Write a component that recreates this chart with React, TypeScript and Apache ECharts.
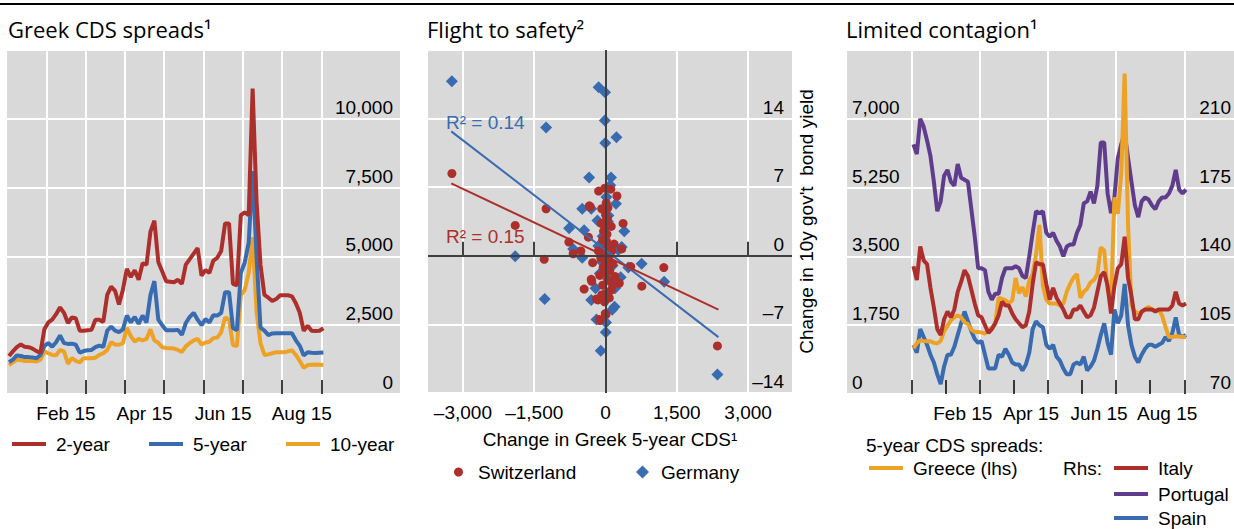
import React, { useEffect, useRef } from 'react';
import * as echarts from 'echarts';

// ---------- time axis (month units: 0 = 1 Jan 2015) ----------
const START = 0.05;
const STEP = 0.1;
const leftMonthTicks = [1, 2, 3, 4, 5, 6, 7, 8];
const rightMonthTicks = [0, 1, 2, 3, 4, 5, 6, 7, 8];
const monthLabelPos = [1.5, 3.5, 5.5, 7.5];
const monthLabels = ['Feb 15', 'Apr 15', 'Jun 15', 'Aug 15'];

// ---------- Greek CDS spreads (bp) ----------
const cds2y = [
  1380, 1550, 1700, 1800, 1720, 1700, 1650, 1560, 1500, 2350,
  2600, 2700, 2900, 3150, 2950, 2580, 2780, 2750, 2300, 2300,
  2320, 2330, 2700, 2700, 2620, 3600, 3900, 3750, 3250, 3800,
  4550, 4250, 4500, 4150, 4750, 4700, 5900, 6300, 4800, 4450,
  4100, 4080, 4060, 4150, 4000, 4700, 4900, 5100, 5300, 4300,
  4500, 4400, 4850, 4950, 5200, 6200, 6200, 4000, 3950, 6500,
  6600, 6500, 11100, 7000, 4700, 3600, 3500, 3380, 3450, 3590,
  3590, 3590, 3550, 3300, 2950, 2300, 2480, 2300, 2290, 2300, 2390,
];
const cds5y = [
  1160, 1250, 1400, 1380, 1340, 1340, 1330, 1300, 1420, 1750,
  1850, 1720, 1880, 2130, 1850, 1820, 1830, 1790, 1500, 1560,
  1590, 1600, 1700, 1760, 1710, 2300, 2450, 2300, 2250, 2350,
  2850, 2600, 2800, 2550, 2850, 2600, 3600, 4100, 2700, 2500,
  2320, 2320, 2320, 2330, 2150, 2580, 2800, 2950, 2700, 2500,
  2720, 2600, 2860, 2850, 2950, 3700, 3700, 2400, 2320, 4400,
  4780, 5500, 8100, 5000, 2420, 2300, 2140, 2200, 2210, 2210,
  2210, 2210, 2210, 1950, 1750, 1400, 1520, 1500, 1490, 1500, 1510,
];
const cds10y = [
  1050, 1150, 1250, 1230, 1200, 1200, 1200, 1180, 1250, 1550,
  1480, 1420, 1410, 1600, 1550, 1100, 1300, 1200, 1150, 1300,
  1300, 1300, 1320, 1420, 1480, 1600, 1880, 1800, 1790, 1850,
  2400, 2100, 1900, 2000, 1950, 2000, 2350, 1950, 1860, 1700,
  1670, 1660, 1650, 1600, 1530, 1730, 1850, 1950, 2000, 1800,
  1870, 1900, 2030, 2050, 2240, 2780, 2700, 1780, 1740, 3600,
  3780, 4400, 5700, 3000, 1850, 1420, 1440, 1480, 1520, 1520,
  1520, 1550, 1590, 1420, 1200, 950, 1050, 1060, 1070, 1060, 1050,
];

// ---------- Limited contagion: 5-year CDS spreads ----------
const greece = [
  1160, 1290, 1370, 1345, 1340, 1340, 1300, 1285, 1350, 1600,
  1740, 1870, 1950, 2000, 1950, 1820, 1780, 1640, 1580, 1580,
  1560, 1540, 1610, 1690, 1780, 2450, 2420, 2385, 2310, 2380,
  2950, 2560, 2720, 2480, 2880, 3050, 3550, 4300, 2750, 2400,
  2300, 2300, 2300, 2250, 2300, 2600, 2800, 2960, 3050, 2450,
  2600, 2680, 2840, 2900, 3050, 3730, 3650, 2650, 2300, 5000,
  4580, 5600, 8150, 4300, 2250, 2100, 2050, 2080, 2150, 2215,
  2150, 2130, 2130, 2000, 1700, 1450, 1450, 1470, 1460, 1450, 1450,
];
const italy = [
  135, 128, 145, 138, 136, 124, 114, 103, 100, 108,
  112, 109, 113, 122, 127, 133, 130, 123, 116, 110,
  109, 105, 101, 103, 106, 110, 117, 115, 115, 111,
  108, 106, 104, 105, 112, 126, 137, 136, 136, 126,
  118, 124, 119, 116, 113, 109, 109, 113, 113, 115,
  112, 109, 110, 114, 122, 130, 132, 125, 111, 125,
  134, 136, 150, 129, 120, 108, 108, 112, 113, 113,
  113, 112, 113, 113, 113, 113, 115, 122, 116, 115, 116,
];
const portugal = [
  197, 192, 210, 206, 199, 191, 178, 163, 168, 181,
  184, 178, 176, 187, 180, 179, 178, 164, 150, 134,
  134, 133, 122, 118, 121, 121, 129, 134, 134, 134,
  135, 134, 130, 129, 140, 152, 163, 162, 163, 152,
  150, 152, 148, 145, 140, 145, 146, 146, 152, 156,
  167, 168, 173, 167, 176, 198, 198, 172, 162, 170,
  190, 197, 203, 190, 178, 166, 160, 168, 170, 169,
  166, 164, 168, 170, 170, 172, 176, 184, 174, 172, 174,
];
const spain = [
  95, 91, 103, 99, 95, 90, 86, 80, 75, 84,
  90, 90, 94, 100, 106, 112, 107, 102, 98, 96,
  97, 90, 83, 83, 83, 90, 89, 93, 90, 86,
  85, 85, 82, 85, 91, 103, 107, 105, 104, 95,
  93, 95, 89, 87, 83, 80, 80, 85, 86, 85,
  89, 82, 84, 87, 93, 100, 106, 96, 90, 113,
  106, 110, 126, 105, 95, 89, 86, 90, 93, 95,
  95, 94, 95, 96, 99, 97, 101, 109, 100, 99, 100,
];

// ---------- Flight to safety: [change in Greek 5y CDS, change in 10y yield] ----------
const cdsTicks = [-3000, -1500, 0, 1500, 3000];
const germany = [
  [-3232, 17.8], [-145, 17.2], [-10, 16.7], [-15, 13.8], [-1250, 13.1], [230, 12.1], [-5, 11.5],
  [-345, 8.0], [115, 8.0], [100, 7.2], [220, 5.3], [-490, 4.8], [-300, 4.8], [-170, 3.6], [50, 3.5],
  [-765, 2.8], [-450, 2.6], [395, 2.5], [340, 0.9], [-1900, -0.05], [-680, 0.7], [-490, -0.2],
  [760, -0.8], [480, -1.2], [1235, -2.65], [320, -2.2], [-210, -3.3], [200, -3.3], [-300, -4.5],
  [-1280, -4.4], [190, -5.2], [140, -5.5], [-190, -6.5], [10, -6.8], [5, -7.8], [-100, -9.7],
  [2355, -12.1], [20, 6.0], [60, 4.1], [-60, 2.0], [0, 1.2], [80, 0.3], [-80, -0.6], [150, -1.0],
  [-120, -1.8], [60, -2.4], [220, -2.7], [-40, -4.0], [270, 0.6], [-150, 1.0],
];
const switzerland = [
  [-3232, 8.4], [-1250, 4.8], [-1900, 3.1], [-1290, -0.35], [1227, -1.2], [764, -3.1], [2355, -9.2],
  [-450, -3.4], [-160, -4.5], [-115, -6.6], [10, -6.0], [-360, 1.9], [-770, 1.4], [-680, 0.2],
  [-320, 5.0], [370, 3.3], [340, 0.7], [530, -1.1], [-145, 6.6], [-15, 6.9], [110, 6.8], [240, 6.1],
  [-80, 4.8], [50, 4.9], [0, 4.2], [-290, -2.6], [290, -2.8], [-520, 0.5], [-270, -0.7], [-300, -2.4],
  [-190, -4.4], [-20, -4.7], [-5, -5.9], [-130, -6.5], [180, 1.2], [120, 3.0], [-90, 3.3], [-340, 5.1],
  [15, 5.4], [-40, 2.5], [30, 2.2], [-60, 1.6], [60, 1.0], [-20, 0.6], [100, 0.3], [-100, -0.2],
  [40, -0.5], [150, -0.8], [-50, -1.2], [90, -1.5], [0, -1.8], [-120, -2.0], [200, -2.1], [50, -2.5],
  [-60, -3.0], [120, -3.5], [30, -3.8], [-80, -4.0], [80, -4.3], [150, -3.0], [-30, 0.0], [20, 1.5],
  [-10, -1.0], [70, -0.2], [-150, 0.5], [130, 0.5], [0, 3.5], [40, 3.8], [-10, 2.9],
];
const fitGermany = [[-3246, 12.7], [2376, -8.3]];
const fitSwitzerland = [[-3246, 7.4], [2376, -5.5]];

// ---------- styling ----------
const RED = '#ad2f2c';
const BLUE = '#386bb0';
const ORANGE = '#eda225';
const PURPLE = '#603c8c';
const GRAY = '#d9d9d9';
const FONT = '"Liberation Sans", Arial, sans-serif';
const TITLE_FONT = '"Open Sans", sans-serif';
const txt = { fontFamily: FONT, fontSize: 19, color: '#000' };

const fmt = (v: number) => {
  const s = Math.abs(v).toLocaleString('en-US');
  return v < 0 ? '\u2013' + s : s;
};
const monthFmt = (v: number) => {
  const i = monthLabelPos.findIndex((p) => Math.abs(p - v) < 1e-6);
  return i >= 0 ? monthLabels[i] : '';
};
const toXY = (arr: number[]) => arr.map((v, i) => [START + STEP * i, v]);

const lineSeries = (name: string, data: number[], color: string, xi: number, yi: number) => ({
  type: 'line',
  name,
  data: toXY(data),
  xAxisIndex: xi,
  yAxisIndex: yi,
  showSymbol: false,
  symbol: 'none',
  lineStyle: { color, width: 4 },
  itemStyle: { color },
  silent: true,
});

const legendItem = (name: string, left: number, top: number, icon: string, w: number, h: number, pad: number) => ({
  data: [{ name, icon }],
  left,
  top,
  padding: 0,
  itemWidth: w,
  itemHeight: h,
  selectedMode: false,
  textStyle: { ...txt, lineHeight: 20, padding: [0, 0, 0, pad] },
});

export default function App() {
  const ref = useRef<HTMLDivElement>(null);
  useEffect(() => {
    document.body.style.margin = '0';
    if (!ref.current) return;
    const chart = echarts.init(ref.current, undefined, { renderer: 'svg' });
    const timeTick = (vals: number[]) => ({
      show: true,
      inside: true,
      length: 14,
      customValues: vals,
      lineStyle: { color: '#000', width: 1.5 },
    });
    const option: any = {
      animation: false,
      backgroundColor: '#fff',
      title: [
        { text: 'Greek CDS spreads\u00b9', left: 8, top: 18 },
        { text: 'Flight to safety\u00b2', left: 427, top: 18 },
        { text: 'Limited contagion\u00b9', left: 846, top: 18 },
      ].map((t) => ({
        ...t,
        padding: 0,
        textStyle: { fontFamily: TITLE_FONT, fontSize: 22, fontWeight: 'normal', color: '#000' },
      })),
      graphic: [
        { type: 'rect', shape: { x: 0, y: 3, width: 1234, height: 2 }, style: { fill: '#000' } },
        {
          type: 'text', x: 866, y: 445,
          style: { text: '5-year CDS spreads:', fontFamily: FONT, fontSize: 19, fill: '#000', verticalAlign: 'middle' },
        },
        {
          type: 'text', x: 1063, y: 468,
          style: { text: 'Rhs:', fontFamily: FONT, fontSize: 19, fill: '#000', verticalAlign: 'middle' },
        },
        {
          type: 'text', x: 446, y: 122, z: 10,
          style: { text: 'R\u00b2 = 0.14', fontFamily: FONT, fontSize: 19, fill: BLUE, verticalAlign: 'middle' },
        },
        {
          type: 'text', x: 446, y: 236, z: 10,
          style: { text: 'R\u00b2 = 0.15', fontFamily: FONT, fontSize: 19, fill: RED, verticalAlign: 'middle' },
        },
      ],
      legend: [
        legendItem('2-year', 12, 434, 'rect', 34, 4, 5),
        legendItem('5-year', 149, 434, 'rect', 34, 4, 5),
        legendItem('10-year', 286, 434, 'rect', 34, 4, 5),
        legendItem('Switzerland', 454, 462, 'circle', 9, 9, 10),
        legendItem('Germany', 636, 462, 'diamond', 13, 13, 7),
        legendItem('Greece (lhs)', 869, 458, 'rect', 34, 4, 5),
        legendItem('Italy', 1114, 458, 'rect', 34, 4, 5),
        legendItem('Portugal', 1114, 484, 'rect', 34, 4, 5),
        legendItem('Spain', 1114, 508, 'rect', 34, 4, 5),
      ],
      grid: [
        { left: 7, top: 50, width: 393, height: 344, show: true, backgroundColor: GRAY, borderWidth: 0 },
        { left: 428, top: 50, width: 364, height: 343, show: true, backgroundColor: GRAY, borderWidth: 0 },
        { left: 847, top: 50, width: 389, height: 344, show: true, backgroundColor: GRAY, borderWidth: 0 },
      ],
      xAxis: [
        {
          gridIndex: 0, type: 'value', min: 0, max: 10,
          axisLine: { show: false },
          axisTick: timeTick(leftMonthTicks),
          splitLine: { show: true, lineStyle: { color: '#fff', width: 2 } },
          axisLabel: { ...txt, customValues: monthLabelPos, formatter: monthFmt, margin: 10 },
        },
        {
          gridIndex: 1, type: 'value', min: -3735, max: 3924,
          axisLine: { show: false },
          axisTick: { show: true, inside: true, length: 14, customValues: cdsTicks, lineStyle: { color: '#000', width: 1.5 } },
          splitLine: { show: true, lineStyle: { color: '#fff', width: 2 } },
          axisLabel: { ...txt, customValues: cdsTicks, formatter: fmt, margin: 10 },
          name: 'Change in Greek 5-year CDS\u00b9',
          nameLocation: 'middle',
          nameGap: 37,
          nameTextStyle: { ...txt },
        },
        {
          gridIndex: 2, type: 'value', min: -1.9, max: 9.46,
          axisLine: { show: false },
          axisTick: timeTick(rightMonthTicks),
          splitLine: { show: true, lineStyle: { color: ['#fff', 'rgba(0,0,0,0)'], width: 2 } },
          axisLabel: { ...txt, customValues: monthLabelPos, formatter: monthFmt, margin: 10 },
        },
      ],
      yAxis: [
        {
          gridIndex: 0, type: 'value', position: 'right', min: 0, max: 12500, interval: 2500,
          axisLine: { show: false }, axisTick: { show: false },
          splitLine: { show: true, lineStyle: { color: '#fff', width: 2 } },
          axisLabel: { ...txt, inside: true, margin: 7, verticalAlign: 'bottom', padding: [0, 0, 2, 0], showMaxLabel: false, formatter: fmt },
        },
        {
          gridIndex: 1, type: 'value', position: 'right', min: -14, max: 21, interval: 7,
          axisLine: { show: false }, axisTick: { show: false },
          splitLine: { show: true, lineStyle: { color: '#fff', width: 2 } },
          axisLabel: { ...txt, inside: true, margin: 8, verticalAlign: 'bottom', padding: [0, 0, 2, 0], showMaxLabel: false, formatter: fmt },
          name: "Change in 10y gov't  bond yield",
          nameLocation: 'middle',
          nameRotate: 90,
          nameGap: 5,
          nameTextStyle: { ...txt },
        },
        {
          gridIndex: 2, type: 'value', position: 'left', min: 0, max: 8750, interval: 1750,
          axisLine: { show: false }, axisTick: { show: false },
          splitLine: { show: true, lineStyle: { color: '#fff', width: 2 } },
          axisLabel: { ...txt, inside: true, margin: 5, verticalAlign: 'bottom', padding: [0, 0, 2, 0], showMaxLabel: false, formatter: fmt },
        },
        {
          gridIndex: 2, type: 'value', position: 'right', min: 70, max: 245, interval: 35,
          axisLine: { show: false }, axisTick: { show: false },
          splitLine: { show: false },
          axisLabel: { ...txt, inside: true, margin: 3, verticalAlign: 'bottom', padding: [0, 0, 2, 0], showMaxLabel: false, formatter: fmt },
        },
      ],
      series: [
        lineSeries('10-year', cds10y, ORANGE, 0, 0),
        lineSeries('5-year', cds5y, BLUE, 0, 0),
        lineSeries('2-year', cds2y, RED, 0, 0),
        {
          type: 'scatter', name: 'Germany', data: germany, xAxisIndex: 1, yAxisIndex: 1,
          symbol: 'diamond', symbolSize: 12, itemStyle: { color: BLUE, opacity: 1 }, silent: true,
          markLine: {
            silent: true, symbol: 'none', label: { show: false },
            lineStyle: { color: '#404040', width: 2, type: 'solid' },
            data: [{ xAxis: 0 }, { yAxis: 0 }],
          },
        },
        {
          type: 'scatter', name: 'Switzerland', data: switzerland, xAxisIndex: 1, yAxisIndex: 1,
          symbol: 'circle', symbolSize: 9, itemStyle: { color: RED, opacity: 1 }, silent: true,
        },
        {
          type: 'line', name: 'fitGermany', data: fitGermany, xAxisIndex: 1, yAxisIndex: 1,
          symbol: 'none', lineStyle: { color: BLUE, width: 2 }, silent: true,
        },
        {
          type: 'line', name: 'fitSwitzerland', data: fitSwitzerland, xAxisIndex: 1, yAxisIndex: 1,
          symbol: 'none', lineStyle: { color: RED, width: 2 }, silent: true,
        },
        lineSeries('Portugal', portugal, PURPLE, 2, 3),
        lineSeries('Spain', spain, BLUE, 2, 3),
        lineSeries('Greece (lhs)', greece, ORANGE, 2, 2),
        lineSeries('Italy', italy, RED, 2, 3),
      ],
    };
    chart.setOption(option);
    return () => chart.dispose();
  }, []);
  return <div ref={ref} style={{ width: 1234, height: 529 }} />;
}
